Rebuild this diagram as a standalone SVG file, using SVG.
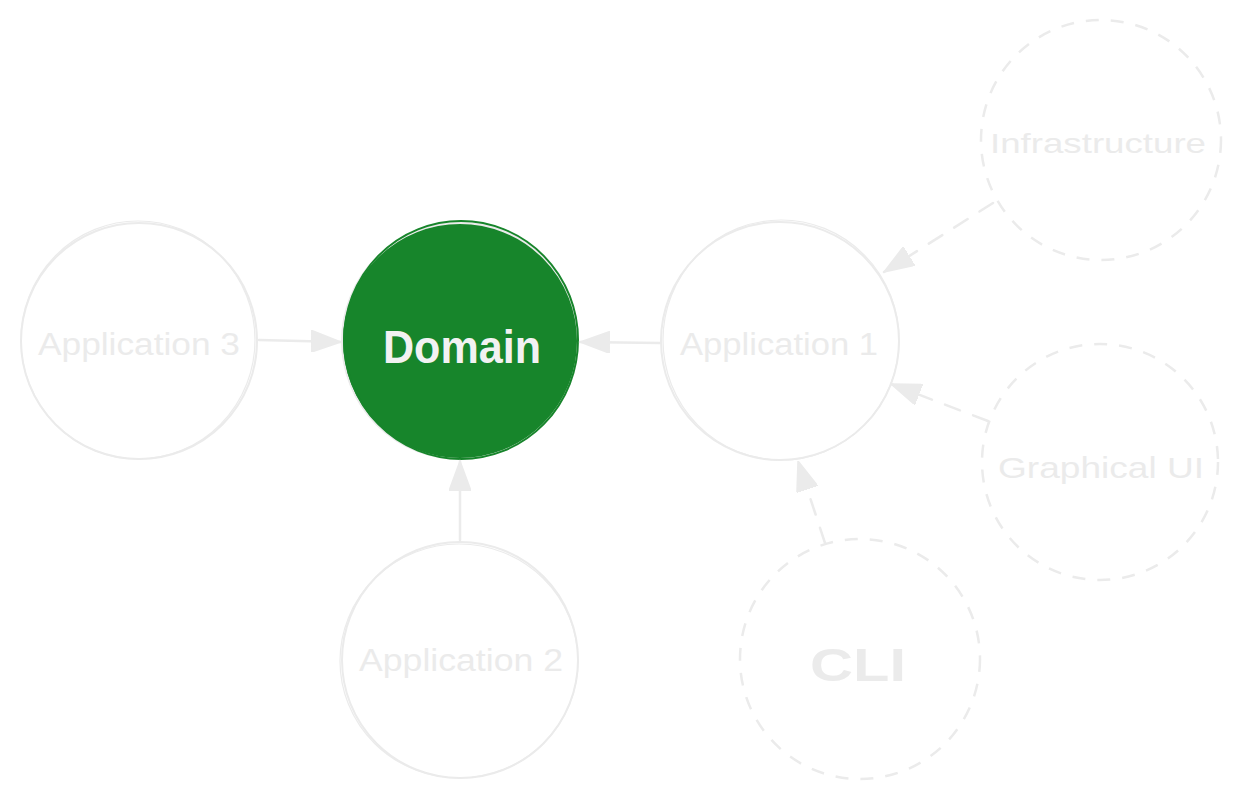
<svg xmlns="http://www.w3.org/2000/svg" width="1240" height="800" viewBox="0 0 1240 800">
  <style>
    .node { fill: none; stroke: #ebebeb; stroke-width: 2; }
    .sk { fill: none; stroke: #ebebeb; stroke-width: 1.2; }
    .dash { fill: none; stroke: #ebebeb; stroke-width: 2.5; stroke-dasharray: 13 12; }
    .lbl { font-family: "Liberation Sans", Arial, sans-serif; fill: #ebebeb; text-anchor: middle; }
    .edge { fill: none; stroke: #ebebeb; stroke-width: 2.5; stroke-linecap: round; }
    .edge.d { stroke-dasharray: 16 14; }
  </style>
  <defs>
    <marker id="ah" viewBox="0 0 30 22" refX="30" refY="11" markerWidth="30" markerHeight="22" markerUnits="userSpaceOnUse" orient="auto">
      <path d="M0,0 L30,11 L0,22 Z" fill="#ebebeb" stroke="#ebebeb" stroke-width="1.5" stroke-linejoin="round"/>
    </marker>
  </defs>
  <rect width="1240" height="800" fill="#ffffff"/>

  <g id="app3">
    <circle class="node" cx="139" cy="341" r="118"/>
    <ellipse class="sk" cx="138" cy="340" rx="117" ry="119"/>
    <text class="lbl" x="139" y="355" font-size="31" textLength="202" lengthAdjust="spacingAndGlyphs">Application 3</text>
  </g>

  <g id="domain">
    <circle cx="460" cy="341" r="118" fill="#17852b" stroke="#ebebeb" stroke-width="2"/>
    <ellipse cx="461" cy="340" rx="117" ry="119" fill="none" stroke="#17852b" stroke-width="2"/>
    <text x="462" y="363" font-family="Liberation Sans, Arial, sans-serif" font-size="46" font-weight="bold" fill="#f2f2f2" text-anchor="middle" textLength="158" lengthAdjust="spacingAndGlyphs">Domain</text>
  </g>

  <g id="app1">
    <circle class="node" cx="780" cy="341" r="119"/>
    <ellipse class="sk" cx="781" cy="340" rx="118" ry="120"/>
    <text class="lbl" x="779" y="355" font-size="31" textLength="198" lengthAdjust="spacingAndGlyphs">Application 1</text>
  </g>

  <g id="app2">
    <circle class="node" cx="460" cy="660" r="118"/>
    <ellipse class="sk" cx="459" cy="661" rx="119" ry="117"/>
    <text class="lbl" x="461" y="671" font-size="31" textLength="204" lengthAdjust="spacingAndGlyphs">Application 2</text>
  </g>

  <g id="infrastructure">
    <circle class="dash" cx="1101" cy="140" r="120"/>
    <text class="lbl" x="1098" y="153" font-size="28" textLength="216" lengthAdjust="spacingAndGlyphs">Infrastructure</text>
  </g>

  <g id="graphical-ui">
    <circle class="dash" cx="1100" cy="462" r="118"/>
    <text class="lbl" x="1101" y="478" font-size="30" textLength="206" lengthAdjust="spacingAndGlyphs">Graphical UI</text>
  </g>

  <g id="cli">
    <circle class="dash" cx="860" cy="659" r="120"/>
    <text class="lbl" x="858" y="681" font-size="46" font-weight="bold" textLength="96" lengthAdjust="spacingAndGlyphs">CLI</text>
  </g>

  <g id="connectors">
    <path class="edge" d="M259,340 L341,342" marker-end="url(#ah)"/>
    <path class="edge" d="M660,343 L580,342" marker-end="url(#ah)"/>
    <path class="edge" d="M460,540 L460,461" marker-end="url(#ah)"/>
    <path class="edge d" d="M993,203 L884,272" marker-end="url(#ah)"/>
    <path class="edge d" d="M988,421 L891,384" marker-end="url(#ah)"/>
    <path class="edge d" d="M825,543 L798,461" marker-end="url(#ah)"/>
  </g>
</svg>
